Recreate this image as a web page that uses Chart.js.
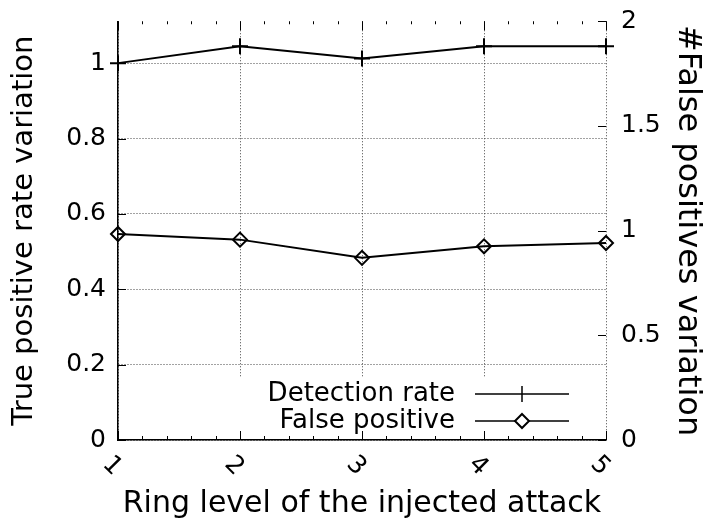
<!DOCTYPE html>
<html>
<head>
<meta charset="utf-8">
<title>Ring level vs detection</title>
<script src="https://cdn.jsdelivr.net/npm/chart.js@4/dist/chart.umd.min.js"></script>
<style>
  html, body { margin: 0; padding: 0; background: #fff; }
  #chart { display: block; }
</style>
</head>
<body>
<canvas id="chart" width="710" height="519"></canvas>
<script>
/* ── Data ───────────────────────────────────────────────── */
const ringLevels     = [1, 2, 3, 4, 5];
const detectionRate  = [1.0, 1.045, 1.012, 1.045, 1.045];   // left axis
const falsePositive  = [0.984, 0.957, 0.87, 0.925, 0.941];  // right axis
const leftTicks      = [0, 0.2, 0.4, 0.6, 0.8, 1];
const rightTicks     = [0, 0.5, 1, 1.5, 2];
const seriesLabels   = ['Detection rate', 'False positive'];

const FONT = "'DejaVu Sans', sans-serif";
const INK  = '#000';
const DOTS = '#444';

Chart.defaults.font.family = FONT;
Chart.defaults.color = INK;

/* ── Extra gnuplot-ish decorations ──────────────────────── */
const gnuplotBits = {
  id: 'gnuplotBits',
  beforeDatasetsDraw(chart) {
    // key box clears the grid behind it
    const { ctx, chartArea: a } = chart;
    ctx.save();
    ctx.fillStyle = '#fff';
    ctx.fillRect(a.left + 1, 378, a.right - a.left - 3, a.bottom - 3 - 378);
    ctx.restore();
  },
  afterDraw(chart) {
    const { ctx, chartArea: a, scales } = chart;
    const x = scales.x, yl = scales.y, yr = scales.y1;
    ctx.save();
    ctx.strokeStyle = INK;
    ctx.lineWidth = 1;

    const seg = (x1, y1, x2, y2) => {
      ctx.beginPath(); ctx.moveTo(x1, y1); ctx.lineTo(x2, y2); ctx.stroke();
    };

    // x ticks (bottom + top), majors and minors
    for (let v = ringLevels[0]; v <= ringLevels[ringLevels.length - 1] + 1e-6; v += 0.2) {
      const px = Math.round(x.getPixelForValue(v)) + 0.5;
      const major = Math.abs(v - Math.round(v)) < 1e-6;
      seg(px, a.bottom, px, a.bottom - (major ? 9 : 4));
      seg(px, a.top, px, a.top + (major ? 9 : 3));
    }
    // left ticks
    leftTicks.forEach(v => {
      const py = Math.round(yl.getPixelForValue(v)) + 0.5;
      seg(a.left, py, a.left + 8, py);
    });
    // right ticks
    rightTicks.forEach(v => {
      const py = Math.round(yr.getPixelForValue(v)) + 0.5;
      seg(a.right, py, a.right - 8, py);
    });

    // rotated x tick labels
    ctx.fillStyle = INK;
    ctx.font = `25px ${FONT}`;
    ctx.textAlign = 'center';
    ctx.textBaseline = 'middle';
    ringLevels.forEach(v => {
      const px = x.getPixelForValue(v);
      ctx.save();
      ctx.translate(px - 6, a.bottom + 26);
      ctx.rotate(Math.PI / 4);
      ctx.fillText(String(v), 0, 0);
      ctx.restore();
    });

    // key
    ctx.font = `26px ${FONT}`;
    ctx.textAlign = 'right';
    const keyRows = [394, 421];
    seriesLabels.forEach((lbl, i) => {
      const y = keyRows[i];
      ctx.fillText(lbl, 455, y);
      ctx.lineWidth = 1.5;
      seg(475, y, 569, y);
      if (i === 0) {
        seg(522, y - 8, 522, y + 8);
      } else {
        ctx.beginPath();
        ctx.moveTo(522, y - 7); ctx.lineTo(529, y); ctx.lineTo(522, y + 7); ctx.lineTo(515, y);
        ctx.closePath();
        ctx.fillStyle = '#fff'; ctx.fill();
        ctx.lineWidth = 2; ctx.stroke();
        ctx.fillStyle = INK;
      }
    });
    ctx.restore();
  }
};

/* ── Chart ──────────────────────────────────────────────── */
const dotted = { color: DOTS, lineWidth: 1, drawTicks: false };
const dottedBorder = { display: true, color: INK, width: 1.5, dash: [1, 2] };

new Chart(document.getElementById('chart'), {
  type: 'line',
  data: {
    datasets: [
      {
        label: seriesLabels[0],
        data: ringLevels.map((lv, i) => ({ x: lv, y: detectionRate[i] })),
        yAxisID: 'y',
        borderColor: INK,
        borderWidth: 2,
        pointStyle: 'cross',
        pointRadius: 8,
        pointBorderWidth: 2,
        pointBorderColor: INK,
        tension: 0,
        clip: false,
      },
      {
        label: seriesLabels[1],
        data: ringLevels.map((lv, i) => ({ x: lv, y: falsePositive[i] })),
        yAxisID: 'y1',
        borderColor: INK,
        borderWidth: 2,
        pointStyle: 'rectRot',
        pointRadius: 7,
        pointBorderWidth: 2,
        pointBorderColor: INK,
        pointBackgroundColor: 'rgba(0,0,0,0)',
        tension: 0,
        clip: false,
      },
    ],
  },
  options: {
    responsive: false,
    animation: false,
    devicePixelRatio: 1,
    layout: { padding: { top: 20, left: 0, right: 0, bottom: 0 } },
    plugins: { legend: { display: false }, tooltip: { enabled: false } },
    scales: {
      x: {
        type: 'linear',
        min: 1,
        max: 5,
        afterBuildTicks: s => { s.ticks = ringLevels.map(v => ({ value: v })); },
        afterFit: s => { s.height = 79; },
        ticks: { display: false },
        grid: dotted,
        border: dottedBorder,
        title: {
          display: true,
          text: 'Ring level of the injected attack',
          font: { size: 30, lineHeight: 1 },
          padding: { top: 0, bottom: 0 },
          color: INK,
        },
      },
      y: {
        position: 'left',
        min: 0,
        max: 1 / 0.9,
        afterBuildTicks: s => { s.ticks = leftTicks.map(v => ({ value: v })); },
        afterFit: s => { s.width = 118; },
        ticks: { font: { size: 25, lineHeight: 0.5 }, padding: 12, color: INK, callback: v => String(v) },
        grid: dotted,
        border: dottedBorder,
        title: {
          display: true,
          text: 'True positive rate variation',
          font: { size: 29, lineHeight: 1 },
          padding: { top: 10, bottom: 0 },
          color: INK,
        },
      },
      y1: {
        position: 'right',
        min: 0,
        max: 2,
        afterBuildTicks: s => { s.ticks = rightTicks.map(v => ({ value: v })); },
        afterFit: s => { s.width = 104; },
        ticks: { font: { size: 25, lineHeight: 0.5 }, padding: 15, color: INK, callback: v => String(v) },
        grid: { display: false, drawTicks: false },
        border: { display: false },
        title: {
          display: true,
          text: '#False positives variation',
          font: { size: 32, lineHeight: 1 },
          padding: { top: 7, bottom: 0 },
          color: INK,
        },
      },
    },
  },
  plugins: [gnuplotBits],
});
</script>
</body>
</html>
